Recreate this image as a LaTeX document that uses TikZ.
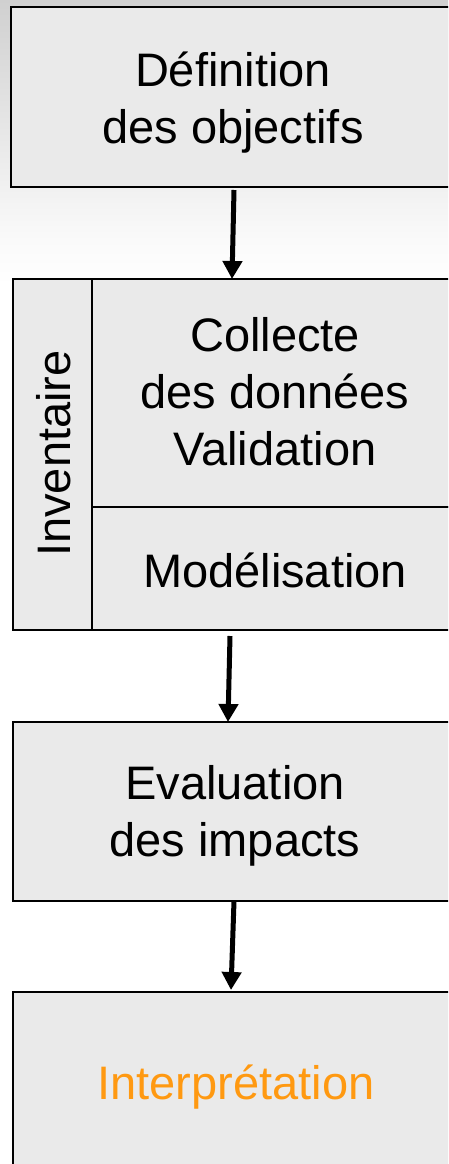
\documentclass[tikz,border=0pt]{standalone}
\usepackage{fontspec}
\setmainfont{Liberation Sans}
\usetikzlibrary{arrows.meta}

\definecolor{boxfill}{RGB}{234,234,234}
\definecolor{interpcol}{RGB}{255,153,17}
\definecolor{bgtop}{RGB}{208,208,208}
\definecolor{bgmid}{RGB}{238,238,238}
\definecolor{bgbottom}{RGB}{250,250,250}

\tikzset{
  stagebox/.style={draw=black,line width=1.7pt,fill=boxfill,rectangle,
                   inner sep=0pt,outer sep=0pt},
  stagetext/.style={inner sep=0pt,align=center,
                    font=\fontsize{47}{57}\selectfont},
  flow/.style={line width=5pt,-{Triangle[width=19pt,length=18pt]}}
}

\begin{document}
\begin{tikzpicture}[x=1pt,y=-1pt]
% page and background
\useasboundingbox (0,0) rectangle (448,1164);
\clip (0,0) rectangle (448,1164);
\fill[white] (0,0) rectangle (448,1164);
\shade[top color=bgtop,middle color=bgmid,bottom color=bgbottom] (0,0) rectangle (448,240);
\shade[top color=bgbottom,bottom color=white] (0,239.5) rectangle (448,285);

% Definition des objectifs (boxes run past the right edge)
\node[stagebox,minimum width=509pt,minimum height=180pt] (defobj) at (265.5,97) {};
\node[stagetext] (defobjtxt) at (233,103) {Définition\\des objectifs};

% Inventaire (side column + two cells)
\node[stagebox,minimum width=79pt,minimum height=351pt] (invcol) at (52.5,454.5) {};
\node[stagetext,rotate=90] (invtxt) at (53.5,453.5) {Inventaire};
\node[stagebox,minimum width=428pt,minimum height=228pt] (collecte) at (306,393) {};
\node[stagetext] (collectetxt) at (275,392) {Collecte\\des données\\Validation};
\node[stagebox,minimum width=428pt,minimum height=123pt] (modelis) at (306,568.5) {};
\node[stagetext] (modelistxt) at (275,570) {Modélisation};

% Evaluation des impacts
\node[stagebox,minimum width=507pt,minimum height=179pt] (evalimp) at (266.5,811.5) {};
\node[stagetext] (evalimptxt) at (235,816) {Evaluation\\des impacts};

% Interpretation
\node[stagebox,minimum width=507pt,minimum height=188pt] (interp) at (266.5,1086) {};
\node[stagetext,text=interpcol] (interptxt) at (236,1087) {Interprétation};

% arrows between stages
\draw[flow] ([xshift=-31.5pt,yshift=-3pt]defobj.south) -- ([xshift=-74pt]collecte.north);
\draw[flow] ([xshift=-76pt,yshift=-6pt]modelis.south) -- ([xshift=-38.5pt]evalimp.north);
\draw[flow] ([xshift=-32.5pt]evalimp.south) -- ([xshift=-35.5pt,yshift=2pt]interp.north);
\end{tikzpicture}
\end{document}
